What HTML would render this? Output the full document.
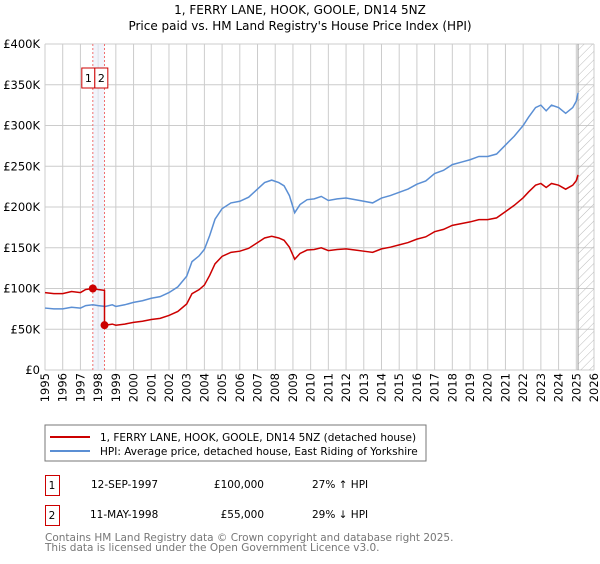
<!DOCTYPE html>
<html><head><meta charset="utf-8"><style>
body{margin:0;background:#fff;font-family:"DejaVu Sans","Liberation Sans",sans-serif;}
svg text{font-family:"DejaVu Sans","Liberation Sans",sans-serif;}
</style></head><body>
<svg id="chart" width="600" height="560" viewBox="0 0 600 560">
<defs><pattern id="hatch" width="6" height="6" patternUnits="userSpaceOnUse" patternTransform="rotate(45)"><line x1="0" y1="0" x2="0" y2="6" stroke="#bbb" stroke-width="1"/></pattern></defs>
<text x="300" y="14" text-anchor="middle" font-size="12">1, FERRY LANE, HOOK, GOOLE, DN14 5NZ</text>
<text x="300" y="30" text-anchor="middle" font-size="12">Price paid vs. HM Land Registry's House Price Index (HPI)</text>
<g id="grid"></g><g id="axes"></g><g id="series"></g>
<rect x="45" y="425" width="381" height="36" fill="#fff" stroke="#777"/>
<line x1="50" y1="437" x2="90" y2="437" stroke="#cc0000" stroke-width="2"/>
<text x="100" y="441" font-size="10.5">1, FERRY LANE, HOOK, GOOLE, DN14 5NZ (detached house)</text>
<line x1="50" y1="451" x2="90" y2="451" stroke="#5b8fd4" stroke-width="2"/>
<text x="100" y="455" font-size="10.5">HPI: Average price, detached house, East Riding of Yorkshire</text>
<g font-size="10.5">
<rect x="45.5" y="475.5" width="14" height="20" fill="none" stroke="#cc0000"/>
<text x="52" y="489" text-anchor="middle">1</text>
<text x="91" y="488">12-SEP-1997</text><text x="264" y="488" text-anchor="end">£100,000</text><text x="312" y="488">27% ↑ HPI</text>
<rect x="45.5" y="505.5" width="14" height="20" fill="none" stroke="#cc0000"/>
<text x="52" y="519" text-anchor="middle">2</text>
<text x="90" y="518">11-MAY-1998</text><text x="264" y="518" text-anchor="end">£55,000</text><text x="312" y="518">29% ↓ HPI</text>
</g>
<text x="45" y="541" font-size="10.5" fill="#777">Contains HM Land Registry data © Crown copyright and database right 2025.</text>
<text x="45" y="551" font-size="10.5" fill="#777">This data is licensed under the Open Government Licence v3.0.</text>
</svg>
<script>
const years=[1995,1996,1997,1998,1999,2000,2001,2002,2003,2004,2005,2006,2007,2008,2009,2010,2011,2012,2013,2014,2015,2016,2017,2018,2019,2020,2021,2022,2023,2024,2025,2026];
const yTicks=[0,50,100,150,200,250,300,350,400];
const hpiDates=[1995,1995.5,1996,1996.5,1997,1997.3,1997.7,1998,1998.4,1998.8,1999,1999.5,2000,2000.5,2001,2001.5,2002,2002.5,2003,2003.3,2003.7,2004,2004.3,2004.6,2005,2005.5,2006,2006.5,2007,2007.4,2007.8,2008.2,2008.5,2008.8,2009.1,2009.4,2009.8,2010.2,2010.6,2011,2011.5,2012,2012.5,2013,2013.5,2014,2014.5,2015,2015.5,2016,2016.5,2017,2017.5,2018,2018.5,2019,2019.5,2020,2020.5,2021,2021.5,2022,2022.3,2022.7,2023,2023.3,2023.6,2024,2024.4,2024.8,2025,2025.1];
const hpiValues=[76,75,75,77,76,79,80,79,78,80,78,80,83,85,88,90,95,102,115,133,140,148,165,185,198,205,207,212,222,230,233,230,226,214,193,203,209,210,213,208,210,211,209,207,205,211,214,218,222,228,232,241,245,252,255,258,262,262,265,276,287,300,310,322,325,318,325,322,315,322,330,340];
const saleDates=[1997.70,1998.36];
const salePrices=[100,55];
const x=t=>45+(t-1995)*(594-45)/31;
const y=v=>370-v*(370-44)/400;
const NS="http://www.w3.org/2000/svg";
function mk(tag,attrs,parent){const e=document.createElementNS(NS,tag);for(const k in attrs)e.setAttribute(k,attrs[k]);parent.appendChild(e);return e;}
const grid=document.getElementById('grid'),axes=document.getElementById('axes'),ser=document.getElementById('series');
years.forEach(t=>{const l=mk('line',{x1:x(t),x2:x(t),y1:44,y2:370,stroke:'#ccc'},grid);


const tx=mk('text',{transform:`translate(${x(t)+4},373) rotate(-90)`,'text-anchor':'end','font-size':'11.5'},axes);tx.textContent=t;

});
yTicks.forEach(v=>{const l=mk('line',{x1:45,x2:594,y1:y(v),y2:y(v),stroke:'#ccc'},grid);


const tx=mk('text',{x:40,y:y(v)+4,'text-anchor':'end','font-size':'11.5'},axes);tx.textContent=v===0?'£0':'£'+v+'K';

});
const last=hpiDates[hpiDates.length-1];
const h=mk('rect',{x:x(last),y:44,width:594-x(last),height:326,fill:'url(#hatch)'},grid);


mk('line',{x1:x(last),x2:x(last),y1:44,y2:370,stroke:'#999'},grid);
const band=mk('rect',{x:x(saleDates[0]),y:44,width:x(saleDates[1])-x(saleDates[0]),height:326,fill:'#e8ecf8',opacity:0.6},grid);


saleDates.forEach((d,i)=>{const l=mk('line',{x1:x(d),x2:x(d),y1:44,y2:370,stroke:'#f07070','stroke-dasharray':'2,2'},grid);

});
function hpiAt(t){for(let i=1;i<hpiDates.length;i++){if(t<=hpiDates[i]){const f=(t-hpiDates[i-1])/(hpiDates[i]-hpiDates[i-1]);return hpiValues[i-1]+f*(hpiValues[i]-hpiValues[i-1]);}}return hpiValues[hpiValues.length-1];}
const hp=mk('polyline',{points:hpiDates.map((t,i)=>x(t)+','+y(hpiValues[i])).join(' '),fill:'none',stroke:'#5b8fd4','stroke-width':1.5},ser);


const pts=[];
hpiDates.forEach((t,i)=>{let k=t<saleDates[1]?0:1;if(t>saleDates[1]&&pts.length&&pts[pts.length-1][0]<saleDates[1]){pts.push([saleDates[1],salePrices[0]*hpiAt(saleDates[1])/hpiAt(saleDates[0])]);pts.push([saleDates[1],salePrices[1]]);}
pts.push([t,salePrices[k]*hpiValues[i]/hpiAt(saleDates[k])]);});
const pp=mk('polyline',{points:pts.map(p=>x(p[0])+','+y(p[1])).join(' '),fill:'none',stroke:'#cc0000','stroke-width':1.5},ser);


const bx0=x(saleDates[0])-11;
saleDates.forEach((d,i)=>{const c=mk('circle',{cx:x(d),cy:y(salePrices[i]),r:4,fill:'#cc0000'},ser);


const bx=mk('rect',{x:bx0+i*13,y:68,width:13,height:20,fill:'#fff',stroke:'#cc0000'},ser);


const tx=mk('text',{x:bx0+i*13+6.5,y:82,'text-anchor':'middle','font-size':'11'},ser);tx.textContent=i+1;

});
</script>
</body></html>
